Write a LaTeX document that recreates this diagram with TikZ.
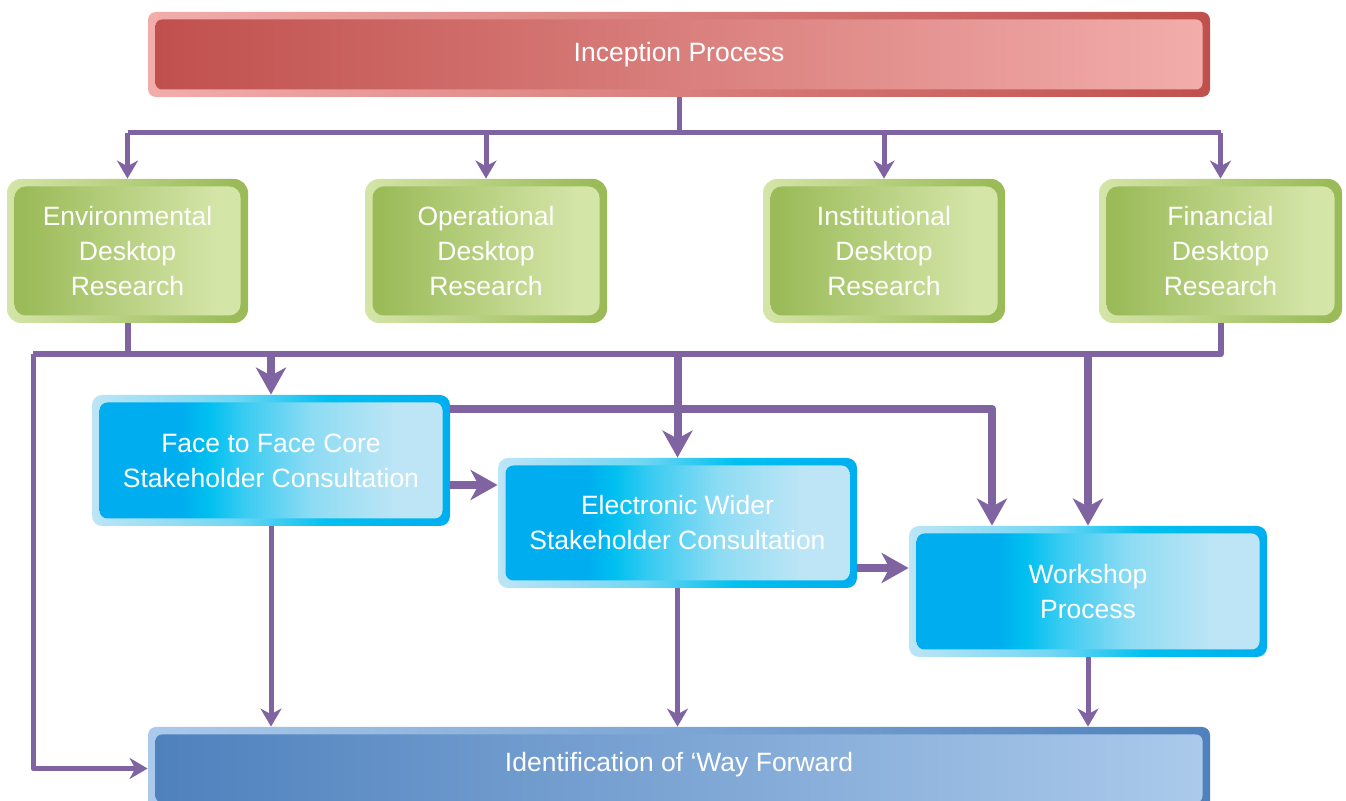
\documentclass[tikz,border=0pt]{standalone}
\usepackage{fontspec}
\setmainfont{Liberation Sans}
\usetikzlibrary{arrows.meta,calc}
\definecolor{lnc}{HTML}{8064A2}
\definecolor{rd}{HTML}{C0504D}
\definecolor{rl}{HTML}{F2ADAB}
\definecolor{gd}{HTML}{9BBB59}
\definecolor{gl}{HTML}{D4E5A8}
\definecolor{bd}{HTML}{00AEEF}
\definecolor{bm}{HTML}{00C0F0}
\definecolor{bl}{HTML}{BDE5F5}
\definecolor{nd}{HTML}{4F81BD}
\definecolor{nl}{HTML}{ABCAEB}
\pgfdeclarehorizontalshading{redout}{100bp}{color(0bp)=(rl); color(25bp)=(rl); color(75bp)=(rd); color(100bp)=(rd)}
\pgfdeclarehorizontalshading{redin}{100bp}{color(0bp)=(rd); color(25bp)=(rd); color(75bp)=(rl); color(100bp)=(rl)}
\pgfdeclarehorizontalshading{grnout}{100bp}{color(0bp)=(gl); color(25bp)=(gl); color(72bp)=(gd); color(100bp)=(gd)}
\pgfdeclarehorizontalshading{grnin}{100bp}{color(0bp)=(gd); color(27bp)=(gd); color(70bp)=(gl); color(100bp)=(gl)}
\pgfdeclarehorizontalshading{bluout}{100bp}{color(0bp)=(bl); color(25bp)=(bl); color(45bp)=(bl!60!bm); color(58bp)=(bm); color(75bp)=(bd); color(100bp)=(bd)}
\pgfdeclarehorizontalshading{bluin}{100bp}{color(0bp)=(bd); color(25bp)=(bd); color(37bp)=(bd); color(41bp)=(bm); color(46bp)=(bm!70!bl); color(56bp)=(bl!75!bm); color(68bp)=(bl); color(100bp)=(bl)}
\pgfdeclarehorizontalshading{navout}{100bp}{color(0bp)=(nl); color(25bp)=(nl); color(75bp)=(nd); color(100bp)=(nd)}
\pgfdeclarehorizontalshading{navin}{100bp}{color(0bp)=(nd); color(25bp)=(nd); color(75bp)=(nl); color(100bp)=(nl)}
\tikzset{
  boxtext/.style={text=white, align=center, font=\fontsize{13.25}{17.5}\selectfont},
  thinline/.style={draw=lnc, line width=2.5pt, line join=round},
  medline/.style={draw=lnc, line width=3pt, line join=round},
  thickline/.style={draw=lnc, line width=4pt, line join=round},
  thinarrow/.style={thinline, -{Stealth[length=9pt, width=10.5pt, inset=2.8pt]}},
  thickarrow/.style={thickline, -{Stealth[length=13.5pt, width=15pt, inset=4pt]}},
}
% name, cx, cy, w, h, radius(pt), outer shading, inner shading, text
\newcommand{\dbox}[9]{%
  \node[shade, shading=#7, rounded corners=#6pt, inner sep=0pt,
        minimum width={#4*0.5pt}, minimum height={#5*0.5pt}] (#1) at (#2,#3) {};
  \node[shade, shading=#8, rounded corners={#6*0.8pt}, inner sep=0pt, boxtext,
        minimum width={(#4-15)*0.5pt}, minimum height={(#5-15)*0.5pt}] (#1-in) at (#1.center) {#9};
}
\begin{document}
\begin{tikzpicture}[x=0.5pt,y=-0.5pt]
\useasboundingbox (0,0) rectangle (1346,801);
\clip (0,0) rectangle (1346,801);

\dbox{incep}{679}{54.5}{1062}{85}{4}{redout}{redin}{Inception Process}
\dbox{env}{127.5}{251}{241}{144}{7}{grnout}{grnin}{Environmental\\Desktop\\Research}
\dbox{op}{486}{251}{242}{144}{7}{grnout}{grnin}{Operational\\Desktop\\Research}
\dbox{inst}{884}{251}{242}{144}{7}{grnout}{grnin}{Institutional\\Desktop\\Research}
\dbox{fin}{1220.5}{251}{243}{144}{7}{grnout}{grnin}{Financial\\Desktop\\Research}
\dbox{face}{271}{460.5}{358}{131}{5}{bluout}{bluin}{Face to Face Core\\Stakeholder Consultation}
\dbox{elec}{677.5}{523}{359}{130}{5}{bluout}{bluin}{Electronic Wider\\Stakeholder Consultation}
\dbox{work}{1088}{591.5}{358}{131}{5}{bluout}{bluin}{Workshop\\Process}
\dbox{wf}{679}{768.5}{1062}{83}{4}{navout}{navin}{}
\node[boxtext] (wftext) at (679,765) {Identification of ‘Way Forward};

% top bus
\coordinate (tb) at (0,133);
\draw[thinline] (incep.south) -- (incep.south |- tb);
\draw[thinline] (env.north |- tb) -- (fin.north |- tb);
\draw[thinarrow] (env.north |- tb) -- (env.north);
\draw[thinarrow] (op.north |- tb) -- (op.north);
\draw[thinarrow] (inst.north |- tb) -- (inst.north);
\draw[thinarrow] (fin.north |- tb) -- (fin.north);

% middle bus
\coordinate (mb) at (33,354);
\draw[medline] (env.south) -- (env.south |- mb);
\draw[medline] (fin.south) -- (fin.south |- mb) -- (mb);
\draw[thinarrow] (mb) -- (mb |- wf.west) -- (wf.west);

% face to workshop upper line
\draw[thickarrow] ($(face.north east)+(0,14)$) -| ($(work.north)+(-96,0)$);

\draw[thickarrow] (face.north |- mb) -- (face.north);
\draw[thickarrow] (elec.north |- mb) -- (elec.north);
\draw[thickarrow] (work.north |- mb) -- (work.north);

% between blue boxes
\coordinate (p1) at (0,485);
\coordinate (p2) at (0,568);
\draw[thickarrow] (face.east |- p1) -- (elec.west |- p1);
\draw[thickarrow] (elec.east |- p2) -- (work.west |- p2);

% down to way forward
\draw[thinarrow] (face.south) -- (face.south |- wf.north);
\draw[thinarrow] (elec.south) -- (elec.south |- wf.north);
\draw[thinarrow] (work.south) -- (work.south |- wf.north);
\end{tikzpicture}
\end{document}
